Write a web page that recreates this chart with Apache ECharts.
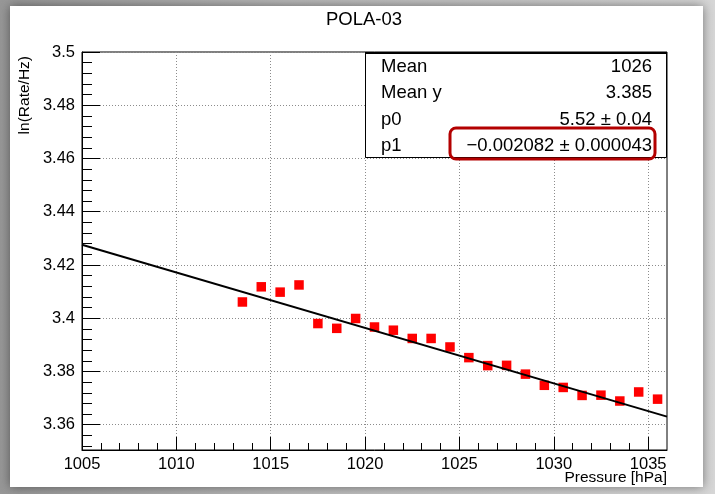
<!DOCTYPE html>
<html>
<head>
<meta charset="utf-8">
<title>POLA-03</title>
<script src="https://cdn.jsdelivr.net/npm/echarts@6/dist/echarts.min.js"></script>
<style>
  html, body { margin: 0; padding: 0; }
  body { width: 715px; height: 494px; overflow: hidden;
         background: linear-gradient(to right, #979797 0%, #b9b9b9 40%, #d6d6d6 100%); }
  #chart { width: 715px; height: 494px; }
</style>
</head>
<body>
<div id="chart"></div>
<script>
// Measured count-rate vs. atmospheric pressure, POLA-03 detector
const pressure = [1013.5, 1014.5, 1015.5, 1016.5, 1017.5, 1018.5, 1019.5, 1020.5,
                  1021.5, 1022.5, 1023.5, 1024.5, 1025.5, 1026.5, 1027.5, 1028.5,
                  1029.5, 1030.5, 1031.5, 1032.5, 1033.5, 1034.5, 1035.5];
const lnRate = [3.4061, 3.4118, 3.4098, 3.4125, 3.3980, 3.3962, 3.3999, 3.3967,
                3.3955, 3.3924, 3.3924, 3.3892, 3.3852, 3.3822, 3.3823, 3.3790,
                3.3748, 3.3740, 3.3710, 3.3711, 3.3689, 3.3723, 3.3696];

// Linear fit parameters (pol1): ln(rate) = p0 + p1 * P
const fitP0 = 5.52;
const fitP1 = -0.002082;
const fitRange = [1005, 1036];

// Axis ranges and tick values
const xRange = [1005, 1036];
const yRange = [3.3505, 3.5];
const xMajorTicks = [1005, 1010, 1015, 1020, 1025, 1030, 1035];
const yMajorTicks = [3.36, 3.38, 3.40, 3.42, 3.44, 3.46, 3.48, 3.50];

// Statistics box rows
const statLabels = ['Mean', 'Mean y', 'p0', 'p1'];
const statValues = ['1026', '3.385', '5.52 \u00b1 0.04', '\u22120.002082 \u00b1 0.000043'];

// minor ticks: 5 subdivisions per major step
function minorTicks(majors, step, lo, hi) {
  const out = [];
  const first = majors[0] - step;
  for (let m = first; m <= majors[majors.length - 1] + step + 1e-9; m += step) {
    for (let k = 1; k < 5; k++) {
      const v = +(m + k * step / 5).toFixed(6);
      if (v > lo && v < hi) out.push(v);
    }
  }
  return out;
}
const xMinorTicks = minorTicks(xMajorTicks, 5, xRange[0], xRange[1]);
const yMinorTicks = minorTicks(yMajorTicks, 0.02, yRange[0], yRange[1]);

const fitLine = fitRange.map(p => [p, fitP0 + fitP1 * p]);
const points = pressure.map((p, i) => [p, lnRate[i]]);

const FONT = '"Liberation Sans", Arial, Helvetica, sans-serif';
const GRID = { left: 82, top: 52, width: 585, height: 398 };

const chart = echarts.init(document.getElementById('chart'), null, { renderer: 'canvas' });

const statGraphics = [];
const rowY = [67, 93, 120, 146];
statLabels.forEach((lab, i) => {
  statGraphics.push({
    type: 'text', x: 381, y: rowY[i], z: 20,
    style: { text: lab, font: '18.5px ' + FONT, fill: '#000', textAlign: 'left', textVerticalAlign: 'middle' }
  });
  statGraphics.push({
    type: 'text', x: 652, y: rowY[i], z: 20,
    style: { text: statValues[i], font: '18.5px ' + FONT, fill: '#000', textAlign: 'right', textVerticalAlign: 'middle' }
  });
});

const option = {
  animation: false,
  backgroundColor: 'transparent',
  textStyle: { fontFamily: FONT },
  grid: Object.assign({ show: true, borderColor: '#000', borderWidth: 1, backgroundColor: '#fff', containLabel: false }, GRID),
  xAxis: [
    {
      type: 'value', min: xRange[0], max: xRange[1], position: 'bottom',
      axisLine: { show: true, onZero: false, lineStyle: { color: '#000', width: 1 } },
      axisTick: { show: true, inside: true, length: 13, customValues: xMajorTicks, lineStyle: { color: '#000', width: 1 } },
      axisLabel: { show: true, customValues: xMajorTicks, formatter: v => String(v),
                   color: '#000', fontSize: 16.5, fontFamily: FONT, margin: 6 },
      splitLine: { show: true, lineStyle: { color: '#8c8c8c', width: 1, type: [1, 2] } },
      minorTick: { show: false }
    },
    {
      type: 'value', min: xRange[0], max: xRange[1], position: 'bottom',
      axisLine: { show: false },
      axisTick: { show: true, inside: true, length: 7, customValues: xMinorTicks, lineStyle: { color: '#000', width: 1 } },
      axisLabel: { show: false },
      splitLine: { show: false }
    }
  ],
  yAxis: [
    {
      type: 'value', min: yRange[0], max: yRange[1], position: 'left', splitNumber: 8,
      axisLine: { show: true, onZero: false, lineStyle: { color: '#000', width: 1 } },
      axisTick: { show: true, inside: true, length: 18, customValues: yMajorTicks, lineStyle: { color: '#000', width: 1 } },
      axisLabel: { show: true, customValues: yMajorTicks, formatter: v => String(+v.toFixed(4)),
                   color: '#000', fontSize: 16.5, fontFamily: FONT, margin: 7 },
      splitLine: { show: true, lineStyle: { color: '#8c8c8c', width: 1, type: [1, 2] } },
      minorTick: { show: false }
    },
    {
      type: 'value', min: yRange[0], max: yRange[1], position: 'left',
      axisLine: { show: false },
      axisTick: { show: true, inside: true, length: 10, customValues: yMinorTicks, lineStyle: { color: '#000', width: 1 } },
      axisLabel: { show: false },
      splitLine: { show: false }
    }
  ],
  series: [
    {
      name: 'data', type: 'scatter', xAxisIndex: 0, yAxisIndex: 0,
      symbol: 'rect', symbolSize: 9.5, data: points,
      itemStyle: { color: '#ff0000', opacity: 1 }, z: 3
    },
    {
      name: 'fit', type: 'line', xAxisIndex: 0, yAxisIndex: 0,
      data: fitLine, showSymbol: false, symbol: 'none',
      lineStyle: { color: '#000', width: 2 }, z: 4, silent: true
    }
  ],
  graphic: [
    // canvas panel
    { type: 'rect', z: -10, shape: { x: 10, y: 6, width: 693, height: 481 },
      style: { fill: '#fff', shadowBlur: 10, shadowColor: 'rgba(0,0,0,0.45)', shadowOffsetX: 0, shadowOffsetY: 0 } },
    // title
    { type: 'text', x: 364, y: 20, z: 20,
      style: { text: 'POLA-03', font: '18.5px ' + FONT, fill: '#000', textAlign: 'center', textVerticalAlign: 'middle' } },
    // y axis title
    { type: 'text', x: 25, y: 56, rotation: Math.PI / 2, z: 20,
      style: { text: 'ln(Rate/Hz)', font: '15.5px ' + FONT, fill: '#000', textAlign: 'right', textVerticalAlign: 'middle' } },
    // x axis title
    { type: 'text', x: 667, y: 478, z: 20,
      style: { text: 'Pressure [hPa]', font: '15.5px ' + FONT, fill: '#000', textAlign: 'right', textVerticalAlign: 'middle' } },
    // statistics box
    { type: 'rect', z: 15, shape: { x: 365.5, y: 52.5, width: 301, height: 105 },
      style: { fill: '#fff', stroke: '#000', lineWidth: 1 } },
    { type: 'line', z: 16, shape: { x1: 365, y1: 53, x2: 667, y2: 53 }, style: { stroke: '#000', lineWidth: 2 } },
    ...statGraphics,
    // highlight around the p1 value
    { type: 'rect', z: 21, shape: { x: 450, y: 128, width: 205, height: 31, r: 6 },
      style: { fill: 'none', stroke: '#b30000', lineWidth: 3 } }
  ]
};

chart.setOption(option);
</script>
</body>
</html>
